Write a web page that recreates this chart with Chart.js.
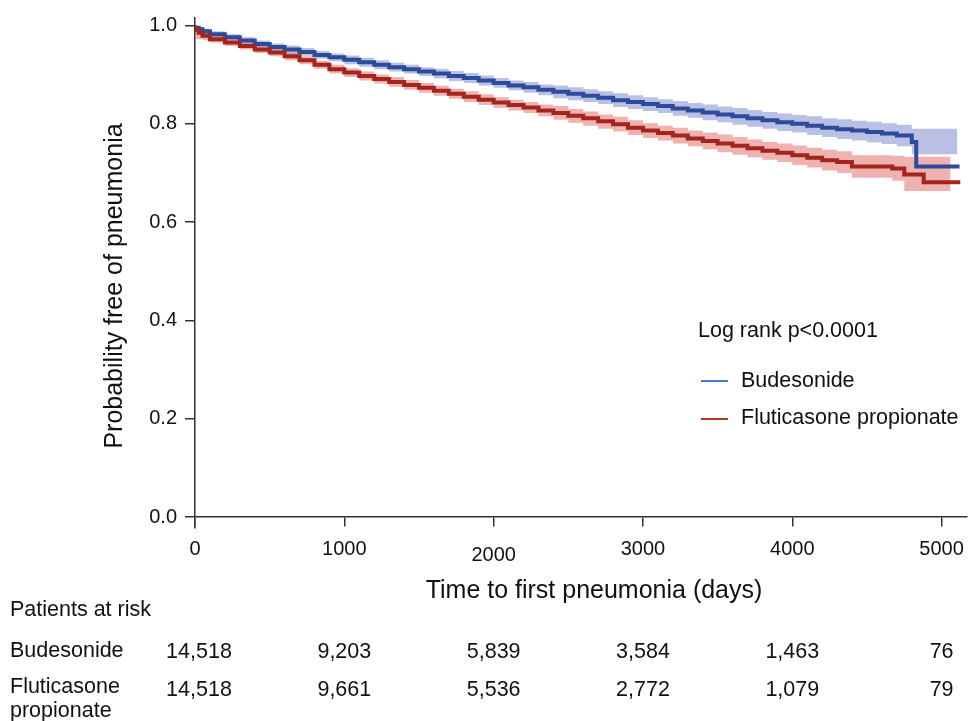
<!DOCTYPE html>
<html><head><meta charset="utf-8">
<script src="https://cdn.jsdelivr.net/npm/chart.js@4.4.1/dist/chart.umd.min.js"></script>
<style>html,body{margin:0;padding:0;background:#fff;}canvas{display:block;}</style>
</head><body>
<canvas id="c" width="968" height="721"></canvas>
<script>
const xTicks = [0, 1000, 2000, 3000, 4000, 5000];
const yTicks = [0, 0.2, 0.4, 0.6, 0.8, 1.0];

const blueDays = [0,25,50,100,200,300,400,500,600,700,800,900,1000,1100,1200,1300,1400,1500,1600,1700,1800,1900,2000,2100,2200,2300,2400,2500,2600,2700,2800,2900,3000,3100,3200,3300,3400,3500,3600,3700,3800,3900,4000,4100,4200,4300,4400,4500,4600,4700,4800,4830,5105,5120];
const blueSurv = [1.000,.995,.992,.988,.982,.976,.969,.962,.956,.951,.946,.940,.935,.930,.925,.920,.915,.911,.906,.902,.897,.893,.888,.883,.878,.874,.869,.865,.861,.857,.853,.848,.844,.840,.836,.831,.827,.823,.819,.815,.811,.807,.803,.800,.796,.792,.789,.786,.783,.780,.776,.763,.713,.713];
const blueUpper = [1.000,.998,.996,.993,.988,.982,.976,.969,.963,.959,.954,.948,.943,.939,.934,.929,.924,.920,.915,.912,.907,.903,.898,.893,.888,.885,.880,.878,.874,.870,.866,.862,.858,.854,.850,.846,.842,.839,.835,.832,.828,.824,.821,.818,.815,.811,.809,.806,.804,.801,.798,.790,.790];
const blueLower = [1.000,.992,.988,.983,.976,.970,.962,.955,.949,.943,.938,.932,.927,.921,.916,.911,.906,.902,.897,.892,.887,.883,.878,.873,.868,.863,.858,.852,.848,.844,.840,.834,.830,.826,.822,.816,.812,.807,.803,.798,.794,.790,.785,.782,.777,.773,.769,.766,.762,.759,.754,.738,.738];

const redDays = [0,25,50,100,200,300,400,500,600,700,800,900,1000,1100,1200,1300,1400,1500,1600,1700,1800,1900,2000,2100,2200,2300,2400,2500,2600,2700,2800,2900,3000,3100,3200,3300,3400,3500,3600,3700,3800,3900,4000,4100,4200,4300,4400,4670,4750,4880,5060,5125];
const redSurv = [1.000,.990,.985,.979,.972,.965,.958,.951,.945,.937,.929,.920,.911,.904,.897,.891,.885,.879,.873,.867,.861,.855,.849,.843,.838,.833,.827,.822,.816,.811,.805,.799,.792,.786,.781,.776,.770,.765,.760,.755,.750,.745,.741,.736,.731,.726,.722,.713,.709,.697,.681,.681];
const redUpper = [1.000,.998,.996,.990,.979,.972,.965,.958,.953,.945,.937,.928,.920,.913,.906,.900,.895,.889,.883,.877,.871,.866,.860,.854,.849,.844,.839,.836,.830,.825,.819,.814,.807,.801,.796,.792,.786,.782,.778,.773,.768,.763,.760,.756,.751,.747,.744,.736,.735,.733,.733];
const redLower = [1.000,.972,.972,.970,.965,.958,.951,.944,.937,.929,.921,.912,.902,.895,.888,.882,.875,.869,.863,.857,.851,.844,.838,.832,.827,.822,.815,.808,.802,.796,.790,.784,.777,.771,.766,.760,.754,.748,.742,.737,.732,.727,.722,.716,.711,.705,.700,.690,.684,.663,.663];

const riskTitle = 'Patients at risk';
const riskTimes = [0, 1000, 2000, 3000, 4000, 5000];
const riskBud = ['14,518', '9,203', '5,839', '3,584', '1,463', '76'];
const riskFlu = ['14,518', '9,661', '5,536', '2,772', '1,079', '79'];

const FONT = "'Liberation Sans', Arial, Helvetica, sans-serif";
const pts = (days, vals) => vals.map((v, i) => ({x: days[i], y: v}));

const textPlugin = {
  id: 'texts',
  afterDraw(chart) {
    const ctx = chart.ctx;
    const xs = chart.scales.x;
    ctx.save();
    ctx.fillStyle = '#111';
    ctx.font = '25px ' + FONT;
    ctx.textAlign = 'center';
    ctx.textBaseline = 'middle';
    ctx.save();
    ctx.translate(115, 286);
    ctx.rotate(-Math.PI / 2);
    ctx.fillText('Probability free of pneumonia', 0, 0);
    ctx.restore();
    ctx.fillText('Time to first pneumonia (days)', 594, 591);
    ctx.font = '21.5px ' + FONT;
    ctx.textAlign = 'left';
    ctx.fillText('Log rank p<0.0001', 698, 331);
    ctx.fillText('Budesonide', 741, 381);
    ctx.fillText('Fluticasone propionate', 741, 418);
    ctx.lineWidth = 2;
    ctx.strokeStyle = '#4a7bd0';
    ctx.beginPath(); ctx.moveTo(701, 381); ctx.lineTo(728, 381); ctx.stroke();
    ctx.strokeStyle = '#b03a2a';
    ctx.beginPath(); ctx.moveTo(701, 419); ctx.lineTo(728, 419); ctx.stroke();
    ctx.fillText(riskTitle, 10, 610);
    ctx.fillText('Budesonide', 10, 651);
    ctx.fillText('Fluticasone', 10, 687);
    ctx.fillText('propionate', 10, 711);
    ctx.textAlign = 'center';
    riskTimes.forEach((t, i) => {
      const px = xs.getPixelForValue(t) + (i === 0 ? 4 : 0);
      ctx.fillText(riskBud[i], px, 652);
      ctx.fillText(riskFlu[i], px, 690);
    });
    ctx.restore();
  }
};

const lineBase = {pointRadius: 0, stepped: 'after', tension: 0, borderCapStyle: 'butt', borderJoinStyle: 'miter'};

new Chart(document.getElementById('c'), {
  type: 'line',
  data: {
    datasets: [
      Object.assign({}, lineBase, {label: 'bl', data: pts(blueDays, blueLower), borderWidth: 0, borderColor: 'rgba(0,0,0,0)', fill: false, order: 5}),
      Object.assign({}, lineBase, {label: 'bu', data: pts(blueDays, blueUpper), borderWidth: 0, borderColor: 'rgba(0,0,0,0)', backgroundColor: 'rgba(100,115,195,0.45)', fill: '-1', order: 4}),
      Object.assign({}, lineBase, {label: 'rl', data: pts(redDays, redLower), borderWidth: 0, borderColor: 'rgba(0,0,0,0)', fill: false, order: 3}),
      Object.assign({}, lineBase, {label: 'ru', data: pts(redDays, redUpper), borderWidth: 0, borderColor: 'rgba(0,0,0,0)', backgroundColor: 'rgba(225,100,100,0.5)', fill: '-1', order: 2}),
      Object.assign({}, lineBase, {label: 'Budesonide', data: pts(blueDays, blueSurv), borderWidth: 4, borderColor: '#2d4b9b', fill: false, order: 1}),
      Object.assign({}, lineBase, {label: 'Fluticasone propionate', data: pts(redDays, redSurv), borderWidth: 4, borderColor: '#a3261c', fill: false, order: 0})
    ]
  },
  options: {
    responsive: false,
    animation: false,
    devicePixelRatio: 1,
    layout: {padding: {left: 0, top: 18, right: 1, bottom: 193}},
    plugins: {legend: {display: false}, tooltip: {enabled: false}},
    scales: {
      x: {
        type: 'linear',
        position: {y: 0},
        min: 0, max: 5170,
        afterBuildTicks: s => { s.ticks = xTicks.map(v => ({value: v})); },
        afterFit: s => { s.paddingLeft = 0; s.paddingRight = 0; },
        grid: {drawOnChartArea: false, drawTicks: true, tickLength: 9, color: '#333', lineWidth: 1.5},
        border: {display: true, color: '#333', width: 1.5},
        ticks: {
          padding: 11, color: '#111', maxRotation: 0, autoSkip: false,
          callback: v => String(v),
          font: c => ({family: FONT, size: 20, lineHeight: (c.tick && c.tick.value === 2000) ? 1.8 : 1.2})
        }
      },
      y: {
        type: 'linear',
        position: 'left',
        min: -0.022, max: 1.015,
        afterBuildTicks: s => { s.ticks = yTicks.map(v => ({value: v})); },
        afterFit: s => { s.width = 195; s.paddingTop = 0; s.paddingBottom = 0; },
        grid: {drawOnChartArea: false, drawTicks: true, tickLength: 10, color: '#333', lineWidth: 1.5},
        border: {display: true, color: '#333', width: 1.5},
        ticks: {padding: 8, color: '#111', autoSkip: false, callback: v => Number(v).toFixed(1), font: {family: FONT, size: 20}}
      }
    }
  },
  plugins: [textPlugin]
});
</script>
</body></html>
